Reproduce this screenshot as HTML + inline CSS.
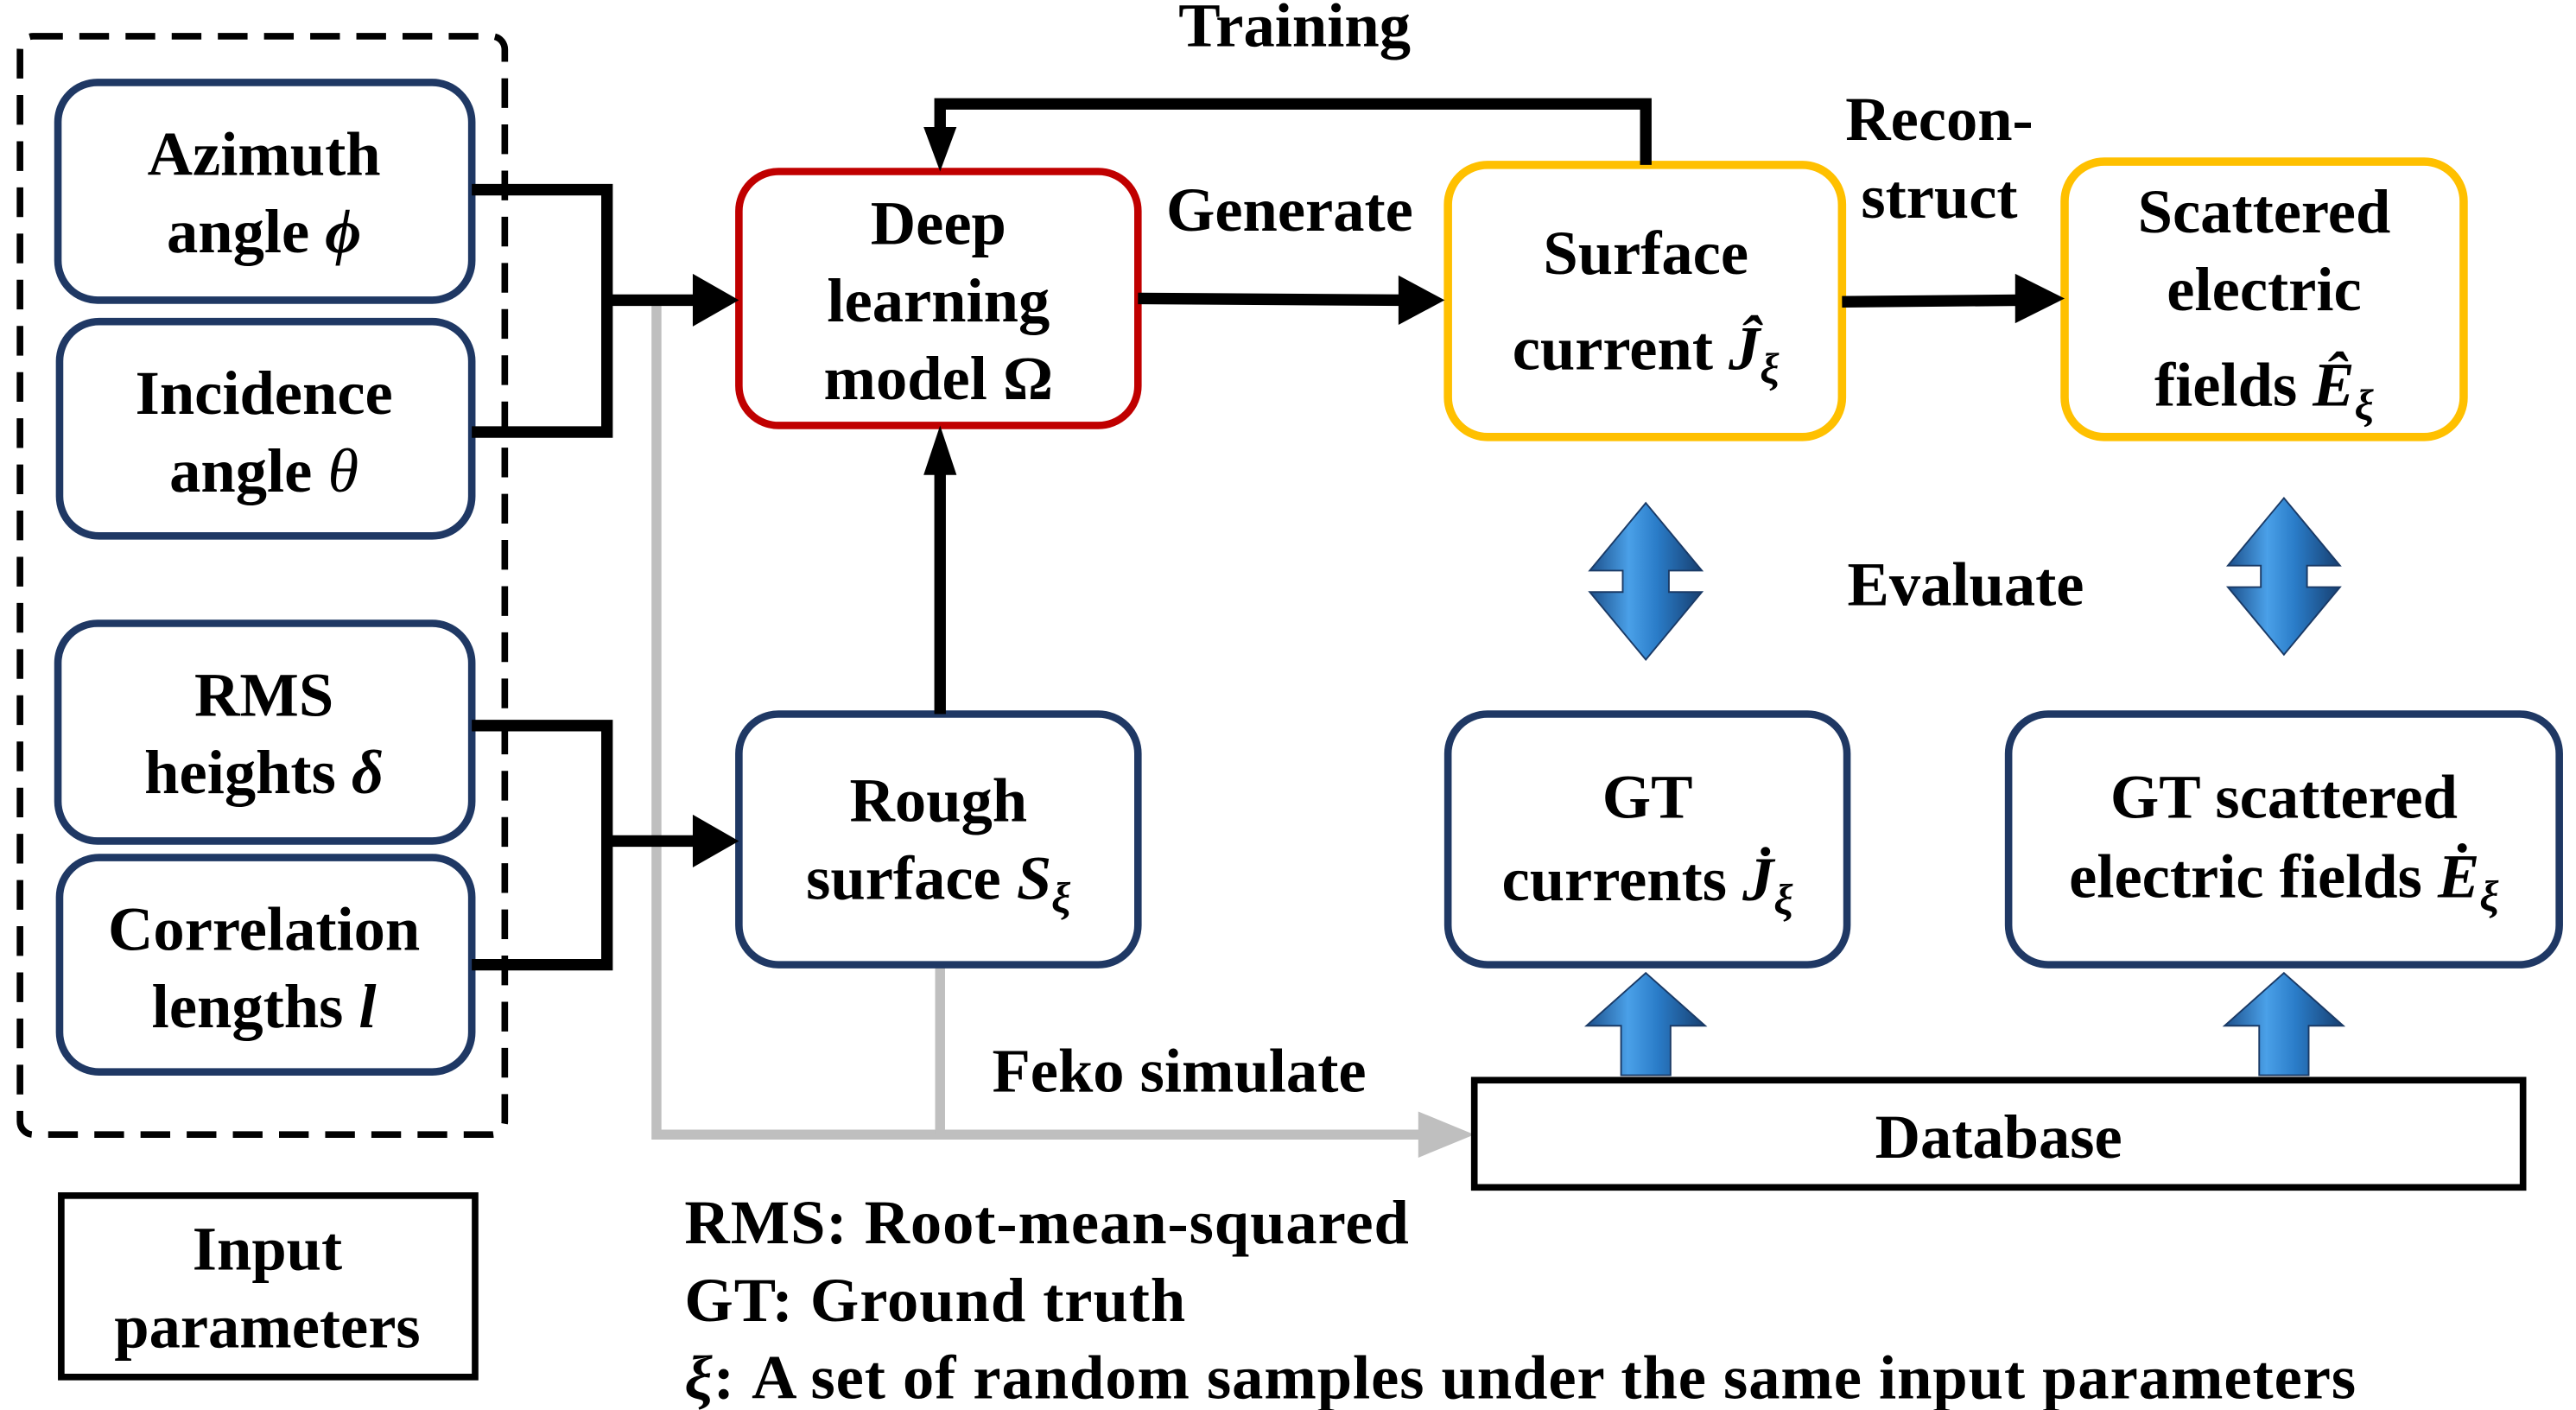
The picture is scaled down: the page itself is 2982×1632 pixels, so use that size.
<!DOCTYPE html>
<html><head><meta charset="utf-8"><style>
html,body{margin:0;padding:0;background:#fff;}
svg{display:block;}
text{font-family:"Liberation Serif",serif;font-weight:bold;fill:#000;}
</style></head><body>
<svg width="2982" height="1632" viewBox="0 0 1562 855" xmlns="http://www.w3.org/2000/svg">
<defs>
<linearGradient id="bg" x1="0" x2="1" y1="0" y2="0">
<stop offset="0" stop-color="#1c4f8a"/><stop offset="0.35" stop-color="#4aa0e8"/><stop offset="0.6" stop-color="#2a7cc8"/><stop offset="1" stop-color="#173f70"/>
</linearGradient>
</defs>
<rect x="12" y="22" width="294" height="666" rx="8" fill="none" stroke="#000" stroke-width="4" stroke-dasharray="18,10"/>
<polyline points="398,182 398,688 862,688" fill="none" stroke="#bfbfbf" stroke-width="6"/>
<line x1="570" y1="585" x2="570" y2="688" stroke="#bfbfbf" stroke-width="6"/>
<polygon points="860,674 894,688 860,702" fill="#bfbfbf"/>
<g fill="#fff" stroke="#1F3864" stroke-width="4.5">
<rect x="35" y="50" width="251" height="132" rx="24"/>
<rect x="36" y="195" width="250" height="130" rx="24"/>
<rect x="35" y="378" width="251" height="132" rx="24"/>
<rect x="36" y="520" width="250" height="130" rx="24"/>
<rect x="448" y="433" width="242" height="152" rx="24"/>
<rect x="878" y="433" width="242" height="152" rx="24"/>
<rect x="1218" y="433" width="334" height="152" rx="24"/>
</g>
<rect x="448" y="104" width="242" height="154" rx="24" fill="#fff" stroke="#C00000" stroke-width="4.5"/>
<rect x="878" y="100" width="239" height="165" rx="24" fill="#fff" stroke="#FFC000" stroke-width="5"/>
<rect x="1252" y="98" width="242" height="167" rx="24" fill="#fff" stroke="#FFC000" stroke-width="5"/>
<rect x="37" y="725" width="251" height="110" fill="#fff" stroke="#000" stroke-width="4"/>
<rect x="894" y="655" width="636" height="65" fill="#fff" stroke="#000" stroke-width="4"/>
<g fill="none" stroke="#000" stroke-width="7">
<polyline points="286,115 368,115 368,262 286,262"/>
<polyline points="286,440 368,440 368,585 286,585"/>
<line x1="368" y1="182" x2="425" y2="182"/>
<line x1="368" y1="510" x2="425" y2="510"/>
<line x1="570" y1="433" x2="570" y2="285"/>
<polyline points="998,100 998,63 570,63 570,82"/>
<line x1="690" y1="181" x2="850" y2="182"/>
<line x1="1117" y1="183" x2="1225" y2="182"/>
</g>
<g fill="#000">
<polygon points="420,166 448,182 420,198"/>
<polygon points="420,494 448,510 420,526"/>
<polygon points="560,288 570,258 580,288"/>
<polygon points="560,77 570,104 580,77"/>
<polygon points="848,167 876,182 848,197"/>
<polygon points="1222,166 1252,181 1222,196"/>
</g>
<g fill="url(#bg)" stroke="#1a3a66" stroke-width="1">
<polygon points="998,305 1032,346 1012,346 1012,359 1032,359 998,400 964,359 984,359 984,346 964,346"/>
<polygon points="1385,302 1419,343 1399,343 1399,356 1419,356 1385,397 1351,356 1371,356 1371,343 1351,343"/>
<polygon points="998,590 1034,622 1013,622 1013,652 983,652 983,622 962,622"/>
<polygon points="1385,590 1421,622 1400,622 1400,652 1370,652 1370,622 1349,622"/>
</g>
<g font-size="38" text-anchor="middle">
<text x="160" y="106">Azimuth</text>
<text x="160" y="153">angle <tspan font-style="italic">ϕ</tspan></text>
<text x="160" y="251">Incidence</text>
<text x="160" y="298">angle <tspan font-style="italic" font-weight="normal">θ</tspan></text>
<text x="160" y="434">RMS</text>
<text x="160" y="481">heights <tspan font-style="italic">δ</tspan></text>
<text x="160" y="576">Correlation</text>
<text x="160" y="623">lengths <tspan font-style="italic">l</tspan></text>
<text x="162" y="770">Input</text>
<text x="162" y="817">parameters</text>
<text x="569" y="148">Deep</text>
<text x="569" y="195">learning</text>
<text x="569" y="242">model Ω</text>
<text x="569" y="498">Rough</text>
<text x="569" y="545">surface <tspan font-style="italic">S<tspan font-size="26" dy="8">ξ</tspan></tspan></text>
<text x="998" y="166">Surface</text>
<text x="998" y="224">current <tspan font-style="italic">Ĵ<tspan font-size="26" dy="8">ξ</tspan></tspan></text>
<text x="1373" y="141">Scattered</text>
<text x="1373" y="188">electric</text>
<text x="1373" y="246">fields <tspan font-style="italic">Ê<tspan font-size="26" dy="8">ξ</tspan></tspan></text>
<text x="999" y="496">GT</text>
<text x="999" y="546">currents <tspan font-style="italic">J̇<tspan font-size="26" dy="8">ξ</tspan></tspan></text>
<text x="1385" y="496">GT scattered</text>
<text x="1385" y="544">electric fields <tspan font-style="italic">Ė<tspan font-size="26" dy="8">ξ</tspan></tspan></text>
<text x="785" y="28">Training</text>
<text x="782" y="140">Generate</text>
<text x="1176" y="85">Recon-</text>
<text x="1176" y="132">struct</text>
<text x="1192" y="367">Evaluate</text>
<text x="715" y="662">Feko simulate</text>
<text x="1212" y="702">Database</text>
</g>
<g font-size="38" letter-spacing="0.5">
<text x="415" y="754">RMS: Root-mean-squared</text>
<text x="415" y="801">GT: Ground truth</text>
<text x="415" y="848"><tspan font-style="italic">ξ</tspan>: A set of random samples under the same input parameters</text>
</g>
</svg>
</body></html>
